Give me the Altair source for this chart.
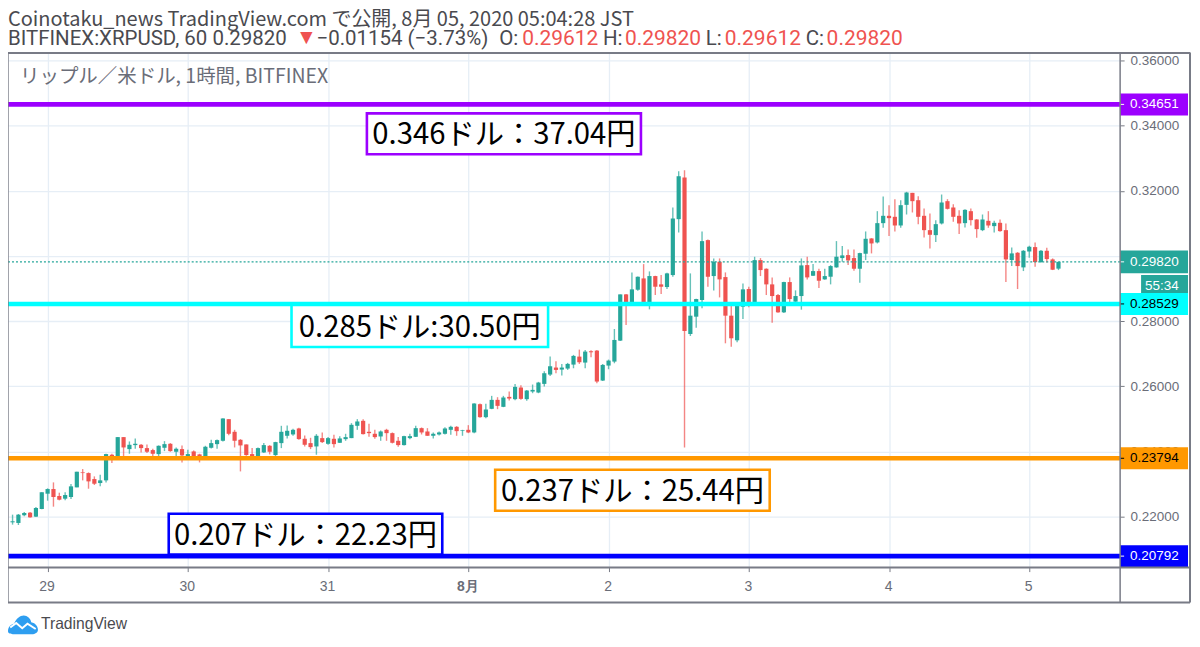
import altair as alt
import pandas as pd

opens = [.21829,.21809,.22044,.22125,.22003,.22238,.22707,.22850,.22636,.22554,.22605,.22901,.23361,.23340,.23156,.23034,.23116,.23902,.23851,.24443,
 .24075,.24198,.24208,.24106,.24045,.23922,.24116,.24239,.23994,.24075,.23840,.24004,.23912,.23840,.24116,.24228,.24331,.24994,.24606,.24361,
 .24218,.23922,.23851,.23973,.24177,.23892,.24259,.24484,.24525,.24708,.24392,.24259,.24157,.24412,.24238,.24392,.24269,.24381,.24412,.24790,
 .24943,.24606,.24545,.24463,.24667,.24565,.24330,.24198,.24412,.24453,.24718,.24616,.24484,.24524,.24545,.24667,.24759,.24637,.24667,.24586,
 .25453,.25055,.25311,.25586,.25372,.25678,.25607,.25964,.25607,.25841,.25811,.26076,.26362,.26577,.26515,.26546,.26668,.26913,.26730,.27077,
 .27097,.26178,.26638,.26760,.27403,.28822,.28567,.28965,.29312,.28536,.29384,.29129,.29047,.29415,.31130,.32406,.27607,.28138,.28649,.30487,
 .29384,.29823,.29353,.28169,.27413,.28445,.28986,.28536,.29874,.29609,.29129,.28802,.28271,.29200,.28598,.28771,.29721,.29394,.29537,.29282,
 .29364,.29650,.29936,.30028,.29936,.29609,.30069,.30538,.30416,.31008,.31233,.31202,.30936,.31569,.31937,.31712,.31233,.30793,.30640,.30998,
 .31682,.31488,.31233,.31008,.31375,.31120,.30793,.31079,.30916,.31018,.30793,.29875,.30099,.29650,.30140,.30273,.29813,.30160,.29895,.29612]
highs = [.22064,.22084,.22146,.22146,.22299,.22748,.22871,.23054,.22738,.22748,.23003,.23381,.23463,.23361,.23238,.23289,.23932,.23932,.24443,.24443,
 .24310,.24402,.24228,.24218,.24086,.24188,.24320,.24259,.24126,.24188,.24055,.24034,.23932,.24177,.24361,.24371,.25025,.24994,.24667,.24382,
 .24218,.24106,.24126,.24259,.24198,.24300,.24790,.24800,.24698,.24729,.24494,.24422,.24535,.24586,.24443,.24514,.24473,.24545,.24871,.24994,
 .24994,.24851,.24667,.24647,.24698,.24586,.24443,.24484,.24545,.24790,.24739,.24718,.24586,.24616,.24749,.24790,.24780,.24667,.24810,.25484,
 .25474,.25464,.25709,.25668,.25709,.25841,.26076,.26035,.25892,.26056,.26138,.26464,.26913,.26771,.26689,.26720,.26965,.27128,.27118,.27107,
 .27118,.26689,.26822,.27761,.28822,.28833,.29496,.29374,.29751,.29527,.29394,.29415,.29486,.31487,.32600,.32631,.29466,.28690,.30752,.30507,
 .29925,.29925,.29496,.28465,.28547,.29159,.29057,.29976,.29935,.29619,.29343,.28833,.29210,.29343,.28945,.29925,.29976,.29751,.29609,.29609,
 .29721,.30457,.30303,.30201,.30201,.30099,.30753,.30548,.31375,.31825,.31559,.31743,.31712,.31968,.31937,.31835,.31457,.31304,.31100,.31886,
 .31743,.31590,.31406,.31437,.31457,.31130,.31273,.31375,.31079,.31120,.30998,.30263,.30120,.30181,.30314,.30416,.30181,.30252,.29926,.29820]
lows = [.21758,.21747,.22013,.21972,.21992,.22227,.22493,.22309,.22503,.22503,.22544,.22901,.23116,.22860,.22973,.22932,.23054,.23646,.23851,.23851,
 .23932,.24086,.23973,.23953,.23830,.23830,.24014,.23994,.23840,.23667,.23830,.23800,.23667,.23830,.24096,.24086,.24310,.24504,.24126,.23391,
 .23871,.23830,.23830,.23953,.23912,.23851,.24106,.24402,.24484,.24361,.24157,.24075,.23902,.24259,.24208,.24126,.24259,.24330,.24412,.24667,
 .24524,.24453,.24392,.24330,.24330,.24249,.24147,.24187,.24381,.24443,.24524,.24484,.24402,.24494,.24524,.24514,.24484,.24484,.24565,.24565,
 .25035,.25025,.25300,.25300,.25362,.25566,.25576,.25586,.25556,.25790,.25790,.25995,.26321,.26403,.26332,.26505,.26556,.26689,.26556,.26893,
 .26097,.26168,.26526,.26709,.27393,.27883,.28547,.28935,.28475,.28363,.28802,.28833,.28986,.29363,.30721,.24126,.27546,.27801,.28394,.29057,
 .28945,.28730,.27321,.27219,.27352,.28067,.28424,.28506,.29384,.28802,.27955,.28261,.28251,.28577,.28475,.28353,.29282,.29384,.29016,.29272,
 .29129,.29640,.29824,.29721,.29548,.29180,.29875,.30079,.30385,.30865,.30610,.30753,.30865,.31273,.31335,.30977,.30569,.30232,.30426,.30967,
 .31427,.31049,.30671,.30875,.30936,.30559,.30763,.30865,.30722,.30742,.29201,.29691,.28986,.29538,.29946,.29670,.29793,.29803,.29568,.29568]
closes = [.21860,.22064,.22115,.21982,.22268,.22748,.22850,.22605,.22523,.22666,.22932,.23381,.23340,.23085,.23013,.23116,.23922,.23800,.24443,.24126,
 .24208,.24239,.24106,.23994,.23932,.24177,.24228,.24014,.24086,.23881,.23922,.23861,.23830,.24147,.24259,.24351,.25015,.24545,.24331,.24188,
 .23892,.23830,.24106,.24198,.23994,.24290,.24606,.24637,.24667,.24382,.24208,.24136,.24484,.24290,.24412,.24228,.24402,.24443,.24820,.24923,
 .24535,.24565,.24443,.24616,.24565,.24269,.24198,.24473,.24473,.24718,.24586,.24484,.24545,.24586,.24708,.24759,.24626,.24657,.24586,.25474,
 .25055,.25290,.25586,.25402,.25658,.25627,.25984,.25617,.25872,.25892,.26117,.26403,.26617,.26505,.26577,.26689,.26934,.26740,.27067,.27046,
 .26148,.26658,.26791,.27424,.28822,.28577,.28976,.29363,.28547,.29384,.29057,.29057,.29466,.31150,.32447,.27699,.28169,.28679,.30456,.29363,
 .29823,.29282,.28169,.27475,.28506,.28976,.28526,.29874,.29568,.29129,.28771,.28271,.29200,.28679,.28771,.29711,.29343,.29537,.29241,.29384,
 .29691,.29977,.30018,.29864,.29609,.30089,.30528,.30385,.31008,.31233,.31161,.30936,.31559,.31947,.31682,.31202,.30793,.30651,.30977,.31641,
 .31447,.31202,.30998,.31416,.31100,.30824,.31120,.30936,.31018,.30763,.29895,.30079,.29691,.30160,.30283,.29813,.30160,.29905,.29579,.29820]

day_ticks = [0, 24, 48, 72, 96, 120, 144, 168]
day_labels = ["29", "30", "31", "8月", "2", "3", "4", "5"]
price_ticks = [.22, .24, .26, .28, .30, .32, .34, .36]
level_prices = [.34651, .28529, .23794, .20792]
level_colors = ["#9c00ff", "#00ffff", "#ff9800", "#0000ff"]
level_text = ["#ffffff", "#000000", "#000000", "#ffffff"]
last_price = .29820

GREEN, RED = "#26a69a", "#ef5350"
GRID = "#e6eef6"
FRAME = "#787b86"
AXIS_TXT = "#6a6d78"
SANS = "Liberation Sans"
ROB = "Roboto"
JP = "Noto Sans CJK JP"

df = pd.DataFrame({"h": list(range(-6, len(opens) - 6)), "o": opens, "hi": highs, "lo": lows, "c": closes})
df["dir"] = ["up" if c >= o else "down" for o, c in zip(opens, closes)]
color = alt.Color("dir:N", scale=alt.Scale(domain=["up", "down"], range=[GREEN, RED]), legend=None)

xscale = alt.Scale(domain=[-6.78, 183.55], nice=False, zero=False, padding=0)
yscale = alt.Scale(domain=[.20440, .36214], nice=False, zero=False, padding=0)
XAXIS = alt.Axis(
    values=day_ticks, grid=True, gridColor=GRID, gridWidth=1.3, domain=False,
    tickColor=FRAME, tickSize=4, labelFont=SANS, labelFontSize=14, labelColor=AXIS_TXT, labelPadding=8, labelOffset=-1,
    labelExpr=f"{day_labels}[datum.value/24]", labelFontWeight=alt.expr("datum.value==72?'bold':'normal'"))
YAXIS = alt.Axis(
    orient="right", values=price_ticks, format=".5f", grid=True, gridColor=GRID, gridWidth=1.3, domain=False,
    tickColor=FRAME, tickSize=4, labelFont=SANS, labelFontSize=13.5, labelColor=AXIS_TXT, labelPadding=6)
X = lambda: alt.X("h:Q", scale=xscale, axis=XAXIS, title=None)
Y = lambda f: alt.Y(f, scale=yscale, axis=YAXIS, title=None)
one = pd.DataFrame({"a": [0]})
OX, OY = 8, 53


def px(v):
    return alt.value(v - OX)


def py(v):
    return alt.value(v - OY)


def txt(s, x, y, size, col, font=SANS, align="left", weight="normal"):
    return alt.Chart(pd.DataFrame({"t": [s]})).mark_text(
        font=font, fontSize=size, color=col, align=align, baseline="alphabetic", fontWeight=weight
    ).encode(x=px(x), y=py(y), text="t:N")


def rect(x0, x1, y0, y1, fill, stroke=None, sw=0):
    kw = dict(fill=fill)
    if stroke:
        kw.update(stroke=stroke, strokeWidth=sw)
    return alt.Chart(one).mark_rect(**kw).encode(x=px(x0), x2=px(x1), y=py(y0), y2=py(y1))


def hline(x0, x1, y, col, w=1):
    return alt.Chart(one).mark_rule(color=col, strokeWidth=w).encode(x=px(x0), x2=px(x1), y=py(y))


def vline(x, y0, y1, col, w=1):
    return alt.Chart(one).mark_rule(color=col, strokeWidth=w).encode(x=px(x), y=py(y0), y2=py(y1))


base = alt.Chart(df)
wicks = base.mark_rule(strokeWidth=1.4, opacity=0.7).encode(x=X(), y=Y("lo:Q"), y2="hi:Q", color=color)
bodies = base.mark_bar(size=4.2).encode(x=X(), y=Y("o:Q"), y2="c:Q", color=color)

last = alt.Chart(pd.DataFrame({"p": [last_price]}))
last_line = last.mark_rule(color=GREEN, strokeWidth=1.2, strokeDash=[2, 2]).encode(y=Y("p:Q"), x=px(8), x2=px(1122))

lv = pd.DataFrame({"p": level_prices, "col": level_colors, "tc": level_text})
lv["lab"] = [f"{p:.5f}" for p in level_prices]
lv_color = alt.Color("col:N", scale=None)
level_lines = alt.Chart(lv).mark_rule(strokeWidth=4.6).encode(y=Y("p:Q"), x=px(8), x2=px(1122), color=lv_color)
level_tags = alt.Chart(lv).mark_rule(strokeWidth=22).encode(y=Y("p:Q"), x=px(1122), x2=px(1190), color=lv_color)
level_ticks = alt.Chart(lv).mark_rule(strokeWidth=1).encode(y=Y("p:Q"), x=px(1122), x2=px(1126), color=alt.Color("tc:N", scale=None))
level_labels = alt.Chart(lv).mark_text(font=SANS, fontSize=13.5, align="left", baseline="middle").encode(
    y=Y("p:Q"), x=px(1132), text="lab:N", color=alt.Color("tc:N", scale=None))

last_tag = last.mark_rule(strokeWidth=23, color=GREEN).encode(y=Y("p:Q"), x=px(1122), x2=px(1190))
last_tick = last.mark_rule(strokeWidth=1, color="#ffffff").encode(y=Y("p:Q"), x=px(1122), x2=px(1126))
last_label = alt.Chart(pd.DataFrame({"p": [last_price], "t": ["0.29820"]})).mark_text(
    font=SANS, fontSize=13.5, align="left", baseline="middle", color="#ffffff").encode(y=Y("p:Q"), x=px(1132), text="t:N")

layers = [wicks, bodies, last_line, level_lines,
          last_tag, last_tick, last_label,
          rect(1143, 1190, 275, 295, GREEN), txt("55:34", 1147, 290, 13.5, "#ffffff"),
          level_tags, level_ticks, level_labels]

# annotation boxes
boxes = [
    (367.5, 642, 113, 154, "#9c00ff", "0.346ドル：37.04円"),
    (292, 549, 305, 347, "#00ffff", "0.285ドル:30.50円"),
    (496, 771, 470, 511, "#ff9800", "0.237ドル：25.44円"),
    (169, 443, 514, 555, "#0000ff", "0.207ドル：22.23円"),
]
for x0, x1, y0, y1, c, s in boxes:
    layers.append(rect(x0, x1, y0, y1, "#ffffff", c, 2.6))
    layers.append(txt(s, (x0 + x1) / 2, y1 - 10, 29.3, "#000000", JP, "center"))

# frame
layers += [
    hline(7, 1192, 52.5, FRAME, 2), hline(7, 1192, 603, FRAME, 2), hline(8, 1192, 568, FRAME, 2),
    vline(7.7, 52, 603, FRAME, 2), vline(1192, 52, 603, FRAME, 2), vline(1122, 52, 603, FRAME, 1.5),
]

# header
TOP = "#4a4a4f"
layers += [
    txt("Coinotaku_news TradingView.com で公開, 8月 05, 2020 05:04:28 JST", 8, 25.5, 20, TOP, JP),
    txt("BITFINEX:XRPUSD, 60 0.29820", 8, 45, 20.5, TOP, ROB),
    txt("▼", 296.5, 44, 21, RED, SANS),
    txt("−0.01154 (−3.73%)", 317, 45, 20.5, TOP, ROB),
    txt("O:", 500, 45, 20.5, TOP, ROB),
    txt("0.29612", 523, 45, 21, RED, ROB),
    txt("H:", 604, 45, 20.5, TOP, ROB),
    txt("0.29820", 626, 45, 21, RED, ROB),
    txt("L:", 707, 45, 20.5, TOP, ROB),
    txt("0.29612", 726, 45, 21, RED, ROB),
    txt("C:", 807, 45, 20.5, TOP, ROB),
    txt("0.29820", 828, 45, 21, RED, ROB),
    txt("リップル／米ドル, 1時間, BITFINEX", 20, 83, 19.5, AXIS_TXT, JP),
]

# logo
cloud = ("M-1 0.45 C-1 0.15 -0.8 0 -0.6 -0.05 C-0.45 -0.4 -0.2 -0.6 0.05 -0.6 C0.3 -0.6 0.5 -0.4 0.55 -0.15 "
         "C0.85 -0.1 1 0.15 1 0.35 C1 0.55 0.8 0.65 0.6 0.65 L-0.6 0.65 C-0.8 0.65 -1 0.6 -1 0.45 Z")
wave = "M-0.85 0.2 L-0.45 -0.1 L-0.05 0.25 L0.3 -0.05 L0.85 0.3"
layers += [
    alt.Chart(one).mark_point(shape=cloud, size=900, filled=True, color="#2e9ef0", opacity=1).encode(x=px(23), y=py(625)),
    alt.Chart(one).mark_point(shape=wave, size=900, filled=False, color="#ffffff", strokeWidth=2, opacity=1).encode(x=px(23), y=py(625)),
    txt("TradingView", 41, 630, 15.7, "#4a4a4f"),
]

chart = alt.layer(*layers).properties(
    width=1114, height=515,
    padding={"left": 0, "top": 45, "right": 72, "bottom": 70},
    autosize=alt.AutoSizeParams(type="none"),
    background="#ffffff",
).configure_view(stroke=None)

chart.save("out.html", embed_options={"renderer": "svg", "actions": False})
